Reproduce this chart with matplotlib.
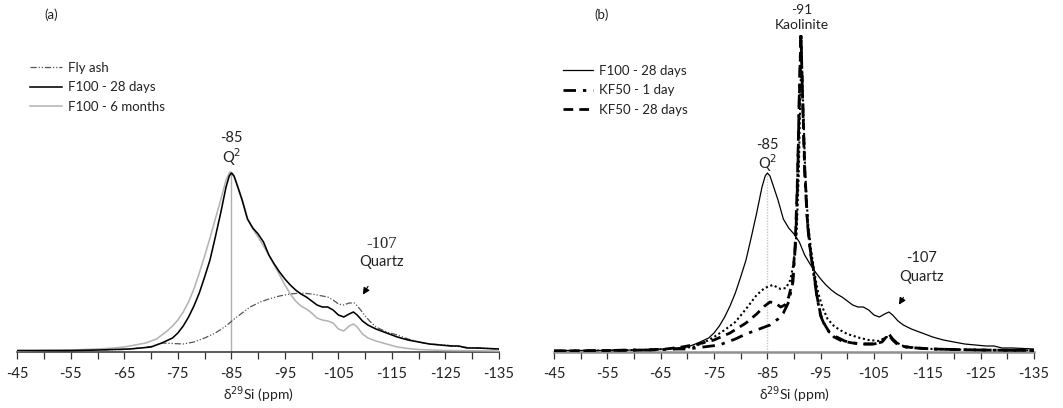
import matplotlib
matplotlib.use("Agg")
import matplotlib.pyplot as plt
from matplotlib.ticker import FixedLocator

# ---------------- data (chemical shift in ppm, intensity in arbitrary units) -------------
f100_28d_ppm = [-45, -50, -55, -60, -63, -66, -68, -70, -72, -74, -75, -76, -77, -78, -79, -80,
                -81, -82, -83, -84, -84.6, -85, -85.5, -86, -87, -88, -89, -90, -91, -92, -93,
                -94, -95, -96, -97, -98, -99, -100, -101, -102, -103, -104, -105, -106, -107,
                -107.8, -108.5, -109.5, -110.5, -112, -114, -116, -118, -120, -122, -124, -126,
                -127.5, -129, -131, -133, -135]
f100_28d_int = [1.5, 1.5, 1.5, 2, 2.5, 3, 4, 5, 9, 14, 19, 26, 35, 46, 59, 75,
                92, 115, 139, 165, 176, 179, 176, 168, 152, 133, 124, 118, 110, 97, 88,
                80, 73, 67, 62, 58, 55, 51, 47, 45, 45, 42, 37, 35, 38,
                40, 37, 31, 27, 23, 19, 15, 12, 10, 8, 7, 6,
                6, 4, 4, 3.5, 3]

f100_6m_ppm = [-45, -50, -55, -60, -63, -65, -67, -69, -70, -71, -72, -73, -74, -75, -76, -77,
               -78, -79, -80, -81, -82, -83, -84, -84.7, -85.2, -86, -87, -88, -89, -90, -91,
               -92, -93, -94, -95, -96, -97, -98, -99, -100, -101, -102, -103, -104, -105,
               -106, -107, -107.8, -108.5, -109.5, -110.5, -112, -114, -116, -118, -120,
               -125, -135]
f100_6m_int = [1, 1.5, 2, 3, 4, 5, 7, 9, 11, 13, 17, 21, 26, 32, 40, 50,
               63, 79, 96, 114, 133, 152, 172, 180, 179, 169, 153, 134, 123, 115, 106,
               97, 87, 77, 67, 58, 51, 46, 43, 39, 34, 32, 31, 29, 23,
               21, 26, 28, 25, 18, 14, 11, 8, 5, 3.5, 2.5,
               1.5, 1]

flyash_ppm = [-45, -50, -55, -60, -65, -68, -70, -72, -74, -76, -78, -80, -82, -84, -85.3, -87,
              -88.5, -90.4, -92, -94, -96, -98, -100, -102, -103, -104, -105, -106, -107,
              -108, -109, -110, -111, -112, -114, -116, -118, -120, -122, -125, -128, -131, -135]
flyash_int = [1, 1, 1.5, 2, 2.5, 4, 5.5, 9, 8.5, 8, 10, 14, 19, 26, 32, 39,
              45, 50, 53, 56, 58, 59, 58, 56, 55, 52, 48, 47, 49,
              49, 43, 36, 30, 25, 20, 17, 13, 10, 8, 7, 5, 4, 3]

kf50_1d_ppm = [-45, -50, -55, -60, -63, -66, -68, -70, -73, -76, -79, -81, -83, -85.5, -87, -88,
               -89, -89.8, -90.3, -90.7, -91.0, -91.3, -91.6, -92, -92.5, -93, -93.6, -94.3,
               -95, -95.8, -96.6, -98, -99.5, -101, -103, -105, -106.5, -107.3, -107.8, -108.5,
               -109.5, -111, -113, -116, -120, -125, -135]
kf50_1d_int = [1, 1, 1.5, 2, 2, 2.5, 3, 3, 5, 7, 13, 18, 22, 27, 33, 39,
               50, 70, 110, 175, 260, 320, 255, 180, 130, 102, 82, 55,
               36, 26, 20, 15, 11, 9, 8, 8, 10, 16, 18, 13,
               8, 5, 4, 3, 2.5, 2, 1.5]

kf50_28d_ppm = [-45, -55, -62, -66, -69, -72, -75, -78, -81, -83, -84.5, -85.5, -86.5, -87.5,
                -88.3, -89, -89.7, -90.2, -90.6, -91.0, -91.3, -91.6, -92, -92.5, -93, -93.6,
                -94.3, -95, -95.8, -96.6, -97.5, -99, -101, -103, -105, -106.5, -107.3, -107.8,
                -108.5, -109.5, -111, -113, -116, -120, -125, -135]
kf50_28d_int = [1, 1.5, 2, 3, 5, 8, 12, 19, 29, 38, 46, 50, 49, 45,
                47, 55, 70, 105, 165, 255, 317, 258, 185, 132, 104, 84,
                56, 37, 27, 20, 15, 11, 9, 8, 8, 10, 15, 17,
                12, 7, 5, 4, 3, 2.5, 2, 1.5]

kf50_dot_ppm = [-45, -55, -62, -66, -69, -71, -73, -75, -77, -79, -81, -83, -84.5, -86, -87.5,
                -88.5, -89.3, -89.9, -90.5, -90.9, -91.2, -91.4, -91.7, -92.1, -92.6, -93.2,
                -93.8, -94.5, -95.3, -96.3, -97.5, -98.6, -100, -102.4, -104, -106, -107.3,
                -108, -109, -110.5, -113, -116, -120, -125, -135]
kf50_dot_int = [1, 1.5, 2, 3, 4, 5, 9, 15, 22, 30, 43, 57, 64, 67, 63,
                64, 72, 88, 120, 180, 260, 300, 250, 180, 130, 102,
                80, 60, 45, 33, 26, 22, 18, 14, 12, 11, 15,
                15, 10, 6, 4, 3, 2.5, 2, 1.5]

major_ticks = [-45, -55, -65, -75, -85, -95, -105, -115, -125, -135]
tick_labels = ["-45", "-55", "-65", "-75", "-85", "-95", "-105", "-115", "-125", "-135"]
minor_ticks = [-50, -60, -70, -80, -90, -100, -110, -120, -130]

# ---------------- figure -------------------------------------------------------------
W, H = 1063, 408
fig = plt.figure(figsize=(W / 100, H / 100), dpi=100)
plt.rcParams['font.family'] = ['Lato', 'DejaVu Sans']
FS = 9.5
TXT = '#222222'

def px_ax(x0, x1, ytop, ybot):
    return [x0 / W, 1 - ybot / H, (x1 - x0) / W, (ybot - ytop) / H]

axA = fig.add_axes(px_ax(17.3, 499, 0, 352))
axB = fig.add_axes(px_ax(554, 1034, 0, 352))

for ax, spc in ((axA, '#404040'), (axB, '#909090')):
    ax.set_xlim(-45, -135)
    ax.set_ylim(0, 352)
    ax.patch.set_alpha(0)
    for s in ('top', 'right', 'left'):
        ax.spines[s].set_visible(False)
    ax.spines['bottom'].set_color(spc)
    ax.spines['bottom'].set_linewidth(1.2 if ax is axA else 1.8)
    ax.set_yticks([])
    ax.xaxis.set_major_locator(FixedLocator(major_ticks))
    ax.set_xticklabels(tick_labels)
    ax.xaxis.set_minor_locator(FixedLocator(minor_ticks))
    ax.tick_params(axis='x', which='both', direction='out', length=5, width=0.9,
                   color='#333333', labelsize=FS + 1, labelcolor=TXT, pad=6)
    ax.set_xlabel('δ$^{29}$Si (ppm)', fontsize=FS + 0.5, color=TXT, labelpad=2)

# ---- panel (a) ----
axA.plot([-85, -85], [0, 179], color='#b0b0b0', lw=1.0, zorder=1)
axA.plot(flyash_ppm, flyash_int, color='#555555', lw=0.9,
         dashes=(5, 1.5, 1, 1.5, 1, 1.5), label='Fly ash', zorder=2)
axA.plot(f100_6m_ppm, f100_6m_int, color='#b4b4b4', lw=1.15, label='F100 - 6 months', zorder=3)
axA.plot(f100_28d_ppm, f100_28d_int, color='#000000', lw=1.15, label='F100 - 28 days', zorder=4)

hA, lA = axA.get_legend_handles_labels()
orderA = [0, 2, 1]
fig.legend([hA[i] for i in orderA], [lA[i] for i in orderA], loc='upper left',
           bbox_to_anchor=(30 / W, 1 - 62 / H), bbox_transform=fig.transFigure,
           frameon=False, fontsize=FS, handlelength=2.4, handletextpad=0.45,
           labelspacing=0.55, borderpad=0, borderaxespad=0, labelcolor=TXT)

axA.text(-85, 214, '-85', ha='center', va='center', fontsize=FS + 1, color=TXT)
axA.text(-85, 195, 'Q$^{2}$', ha='center', va='center', fontsize=FS + 1, color=TXT)
axA.text(-113.1, 108, '-107', ha='center', va='center', fontsize=FS + 2.5, color=TXT,
         family=['Liberation Serif', 'DejaVu Serif'])
axA.text(-113.1, 90, 'Quartz', ha='center', va='center', fontsize=FS + 1, color=TXT)
axA.annotate('', xy=(-109.3, 55), xytext=(-110.8, 68),
             arrowprops=dict(arrowstyle='-|>', color='black', lw=0.8, mutation_scale=10))
fig.text(51 / W, 1 - 15 / H, '(a)', ha='center', va='center', fontsize=FS, color=TXT)

# ---- panel (b) ----
axB.plot([-85, -85], [0, 179], color='#c8c8c8', lw=1.0, ls=(0, (1, 1)), zorder=1)
axB.plot(kf50_dot_ppm, kf50_dot_int, color='black', lw=1.5, ls=(0, (1, 1.3)), zorder=2)
axB.plot(f100_28d_ppm, f100_28d_int, color='black', lw=0.9, label='F100 - 28 days', zorder=3)
axB.plot(kf50_1d_ppm, kf50_1d_int, color='black', lw=2.0,
         dashes=(4.5, 2.5, 1.2, 2.5), label='KF50 - 1 day', zorder=4)
axB.plot(kf50_28d_ppm, kf50_28d_int, color='black', lw=2.0,
         dashes=(3.5, 2.2), label='KF50 - 28 days', zorder=5)

hB, lB = axB.get_legend_handles_labels()
fig.legend(hB, lB, loc='upper left',
           bbox_to_anchor=(563 / W, 1 - 65 / H), bbox_transform=fig.transFigure,
           frameon=False, fontsize=FS, handlelength=2.3, handletextpad=0.45,
           labelspacing=0.55, borderpad=0, borderaxespad=0, labelcolor=TXT)

axB.text(-85, 207, '-85', ha='center', va='center', fontsize=FS + 1, color=TXT)
axB.text(-85, 189, 'Q$^{2}$', ha='center', va='center', fontsize=FS + 1, color=TXT)
axB.text(-91.4, 342, '-91', ha='center', va='center', fontsize=FS + 0.5, color=TXT)
axB.text(-91.4, 327, 'Kaolinite', ha='center', va='center', fontsize=FS + 0.5, color=TXT)
axB.text(-114, 94, '-107', ha='center', va='center', fontsize=FS + 1, color=TXT)
axB.text(-114, 75, 'Quartz', ha='center', va='center', fontsize=FS + 1, color=TXT)
axB.annotate('', xy=(-109.4, 45), xytext=(-110.8, 57),
             arrowprops=dict(arrowstyle='-|>', color='black', lw=0.8, mutation_scale=10))
fig.text(602 / W, 1 - 15 / H, '(b)', ha='center', va='center', fontsize=FS, color=TXT)

fig.savefig('out.png', dpi=100)
